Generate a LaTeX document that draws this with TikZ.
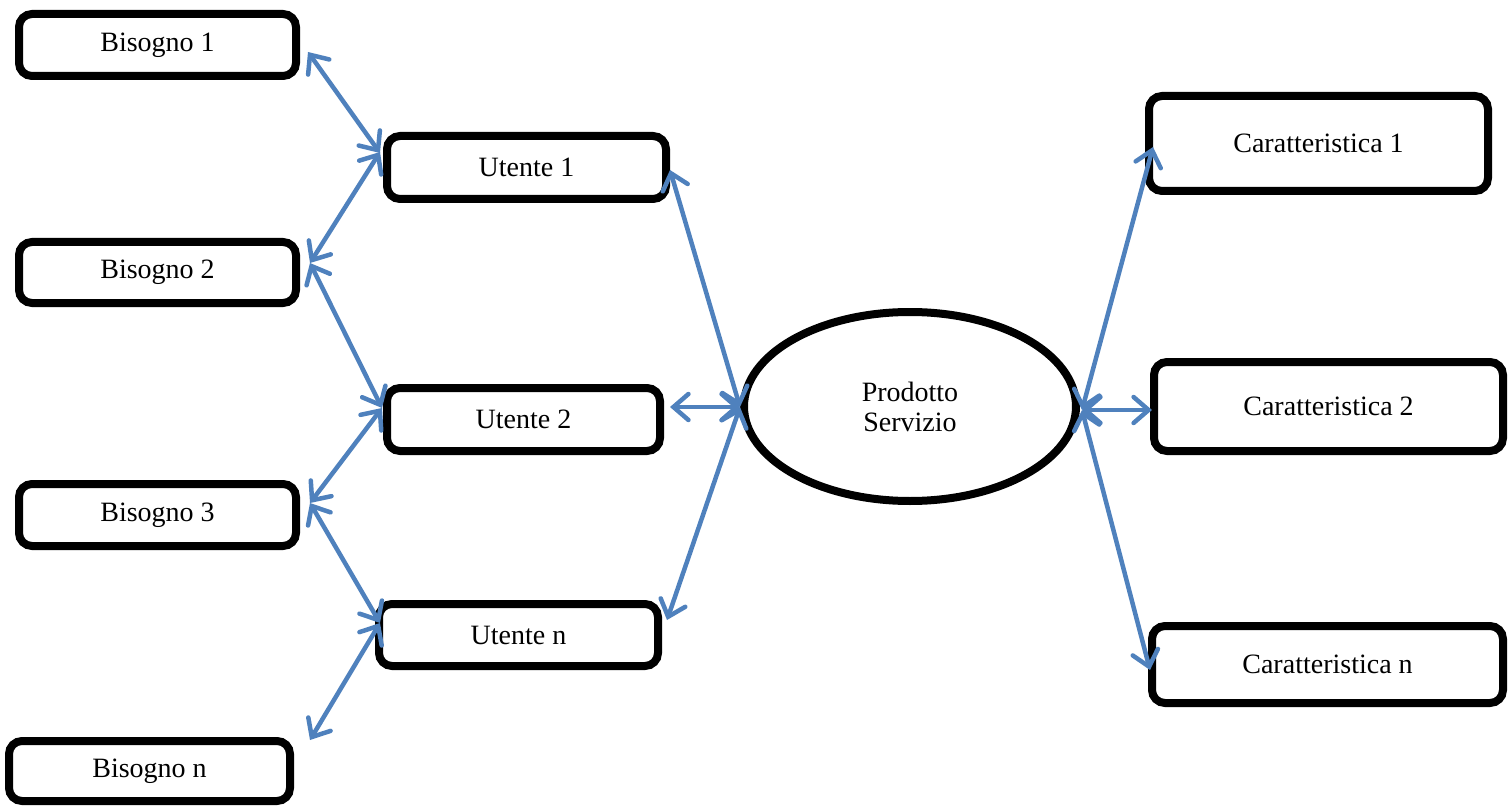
\documentclass[tikz,border=0pt]{standalone}
\usepackage{fontspec}
\setmainfont{Liberation Serif}
\usetikzlibrary{arrows.meta,shapes.geometric}
\definecolor{linkblue}{HTML}{4F81BD}
\tikzset{
  box/.style={draw=black, line width=8pt, rounded corners=13pt, fill=white,
    inner sep=0pt, align=center, font=\fontsize{28}{33}\selectfont},
  oval/.style={ellipse, draw=black, line width=8pt, fill=white, inner sep=0pt,
    align=center, font=\fontsize{28}{30}\selectfont},
  conn/.style={draw=linkblue, line width=4.5pt, line cap=round,
    {Straight Barb[length=15pt,width=26pt,line cap=round]}-{Straight Barb[length=15pt,width=26pt,line cap=round]}}
}
\begin{document}
\begin{tikzpicture}[x=1pt,y=-1pt]
\useasboundingbox (0,0) rectangle (1512,810);
% left column
\node[box, minimum width=277pt, minimum height=62pt] (b1) at (157.5,45) {Bisogno 1};
\node[box, minimum width=277pt, minimum height=61pt] (b2) at (157.5,272.5) {Bisogno 2};
\node[box, minimum width=277pt, minimum height=62pt] (b3) at (157.5,515) {Bisogno 3};
\node[box, minimum width=281pt, minimum height=60pt] (bn) at (149.5,771) {Bisogno n};
% users
\node[box, minimum width=279pt, minimum height=63pt] (u1) at (526.5,167.5) {Utente 1};
\node[box, minimum width=273pt, minimum height=63pt] (u2) at (523.5,419.5) {Utente 2};
\node[box, minimum width=279pt, minimum height=62pt] (un) at (518.5,635) {Utente n};
% product
\node[oval, minimum width=332pt, minimum height=189pt] (el) at (910,406.5) {Prodotto\\Servizio};
% characteristics
\node[box, minimum width=339pt, minimum height=95pt] (c1) at (1318.5,143.5) {Caratteristica 1};
\node[box, minimum width=349pt, minimum height=89pt] (c2) at (1328.5,406.5) {Caratteristica 2};
\node[box, minimum width=351pt, minimum height=77pt] (cn) at (1327.5,664.5) {Caratteristica n};
% connectors
\draw[conn] ([shift={(150.5,7)}]b1.center) -- ([shift={(-146.5,-14.5)}]u1.center);
\draw[conn] ([shift={(-146.5,-15.5)}]u1.center) -- ([shift={(152.5,-9.5)}]b2.center);
\draw[conn] ([shift={(152.5,-9.5)}]b2.center) -- ([shift={(-141.5,-11.5)}]u2.center);
\draw[conn] ([shift={(-141.5,-11.5)}]u2.center) -- ([shift={(152.5,-12)}]b3.center);
\draw[conn] ([shift={(152.5,-12)}]b3.center) -- ([shift={(-138.5,-12)}]un.center);
\draw[conn] ([shift={(-138.5,-12)}]un.center) -- ([shift={(160.5,-31)}]bn.center);
\draw[conn] ([shift={(143.5,2.5)}]u1.center) -- ([shift={(-170,0.5)}]el.center);
\draw[conn] ([shift={(146.5,-12.5)}]u2.center) -- ([shift={(-170,0.5)}]el.center);
\draw[conn] ([shift={(148.5,-15)}]un.center) -- ([shift={(-170,0.5)}]el.center);
\draw[conn] ([shift={(172,3.5)}]el.center) -- ([shift={(-165.5,3.5)}]c1.center);
\draw[conn] ([shift={(172,3.5)}]el.center) -- ([shift={(-176.5,3.5)}]c2.center);
\draw[conn] ([shift={(172,3.5)}]el.center) -- ([shift={(-177.5,5.5)}]cn.center);
\end{tikzpicture}
\end{document}
